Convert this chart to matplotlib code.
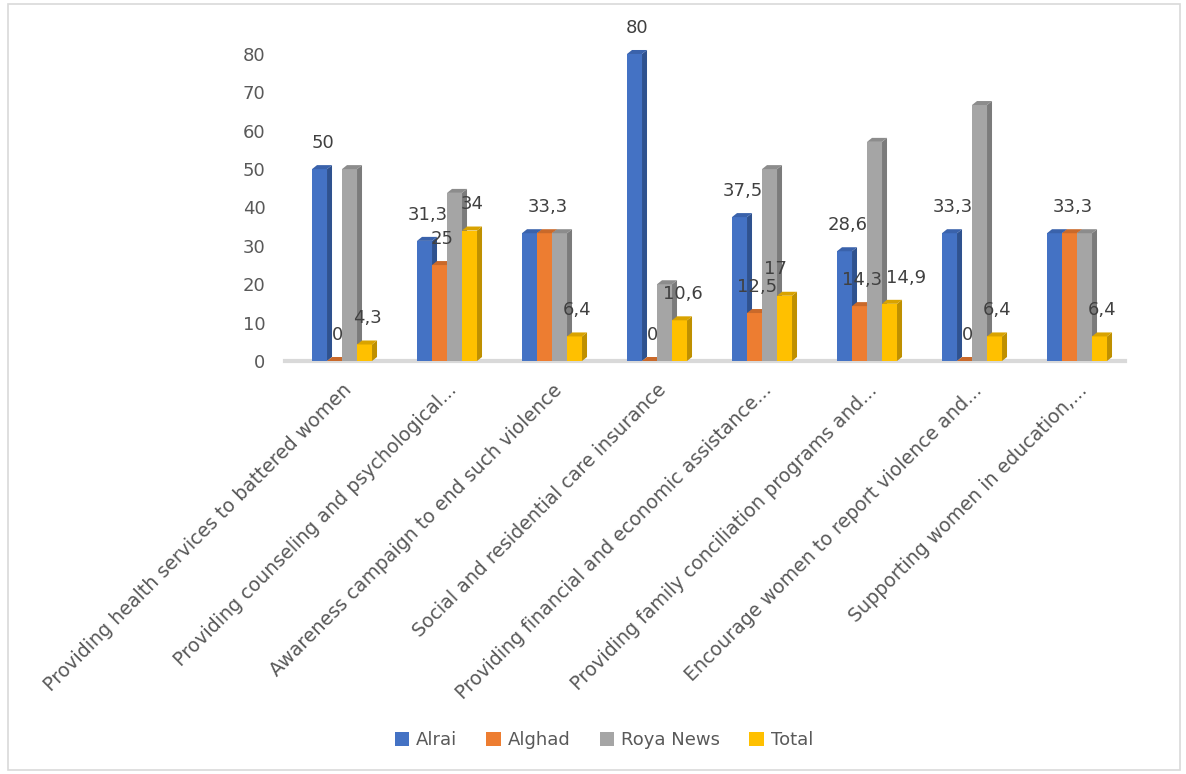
import matplotlib.pyplot as plt
from matplotlib.patches import Polygon, Rectangle

categories = [
    'Providing health services to battered women',
    'Providing counseling and psychological...',
    'Awareness campaign to end such violence',
    'Social and residential care insurance',
    'Providing financial and economic assistance...',
    'Providing family conciliation programs and...',
    'Encourage women to report violence and...',
    'Supporting women in education,...',
]
series = ['Alrai', 'Alghad', 'Roya News', 'Total']
alrai = [50, 31.3, 33.3, 80, 37.5, 28.6, 33.3, 33.3]
alghad = [0, 25, 33.3, 0, 12.5, 14.3, 0, 33.3]
roya = [50, 43.8, 33.3, 20, 50, 57.1, 66.7, 33.3]
total = [4.3, 34, 6.4, 10.6, 17, 14.9, 6.4, 6.4]

# which value labels are shown (Excel hid the overlapping ones)
show_alrai = [True, True, False, True, True, True, True, False]
show_alghad = [True, True, True, True, True, True, True, True]
show_total = [True, True, True, True, True, True, True, True]

face = ['#4472C4', '#ED7D31', '#A5A5A5', '#FFC000']
side = ['#2F528F', '#AE5A21', '#7B7B7B', '#BF9000']
top = ['#3A62AB', '#C9692A', '#8C8C8C', '#D9A300']

W, H = 1186, 774
fig = plt.figure(figsize=(W / 100, H / 100), dpi=100)
fig.patches.append(Rectangle((8 / W, 4 / H), 1172 / W, 766 / H, transform=fig.transFigure,
                             fill=False, edgecolor='#D9D9D9', lw=1.2))

ax = fig.add_axes([285 / W, 1 - 361 / H, 840 / W, 326.2 / H])
ax.set_xlim(-0.543, 7.457)
ax.set_ylim(0, 85)
for s in ax.spines.values():
    s.set_visible(False)

bw = 15 / 105
dx = 5 / 105
dy = 4 / 3.8375
grey = '#595959'

# floor
ax.plot([-0.543, 7.457], [0, 0], color='#D9D9D9', lw=3, zorder=1, clip_on=False)

data = [alrai, alghad, roya, total]
for j, vals in enumerate(data):
    for i, v in enumerate(vals):
        x0 = i - 2 * bw + j * bw
        x1 = x0 + bw
        if v > 0:
            ax.add_patch(Rectangle((x0, 0), bw, v, facecolor=face[j], edgecolor='none', zorder=3 + j))
            ax.add_patch(Polygon([(x1, 0), (x1 + dx, dy), (x1 + dx, v + dy), (x1, v)],
                                 facecolor=side[j], edgecolor='none', zorder=3 + j))
        ax.add_patch(Polygon([(x0, v), (x0 + dx, v + dy), (x1 + dx, v + dy), (x1, v)],
                             facecolor=top[j], edgecolor='none', zorder=3 + j))

# small sideways nudges Excel applied to crowded labels (in pixels)
nudge = {(3, 4): -12, (3, 5): 14}
label_sets = [(0, alrai, show_alrai), (1, alghad, show_alghad), (3, total, show_total)]
for j, vals, show in label_sets:
    for i, v in enumerate(vals):
        if not show[i]:
            continue
        xc = i - 2 * bw + j * bw + bw / 2 + (3 + nudge.get((j, i), 0)) / 105
        txt = f'{v:g}'.replace('.', ',')
        ax.text(xc, v + 4.5, txt, ha='center', va='bottom', fontsize=13,
                color='#404040', zorder=10)

ax.set_xticks(range(len(categories)))
ax.set_xticklabels(categories, rotation=45, ha='right', rotation_mode='anchor',
                   fontsize=13.7, color=grey)
ax.set_yticks(range(0, 81, 10))
ax.tick_params(axis='y', labelsize=13, labelcolor=grey, length=0, pad=14)
ax.tick_params(axis='x', length=0, pad=14)

handles = [Rectangle((0, 0), 1, 1, facecolor=c) for c in face]
fig.legend(handles, series, loc='center', bbox_to_anchor=(604 / W, 1 - 740 / H), ncol=4,
           frameon=False, fontsize=13, handlelength=0.8, handleheight=0.8,
           handletextpad=0.4, columnspacing=1.6, labelcolor=grey)

fig.savefig('out.png', dpi=100)
